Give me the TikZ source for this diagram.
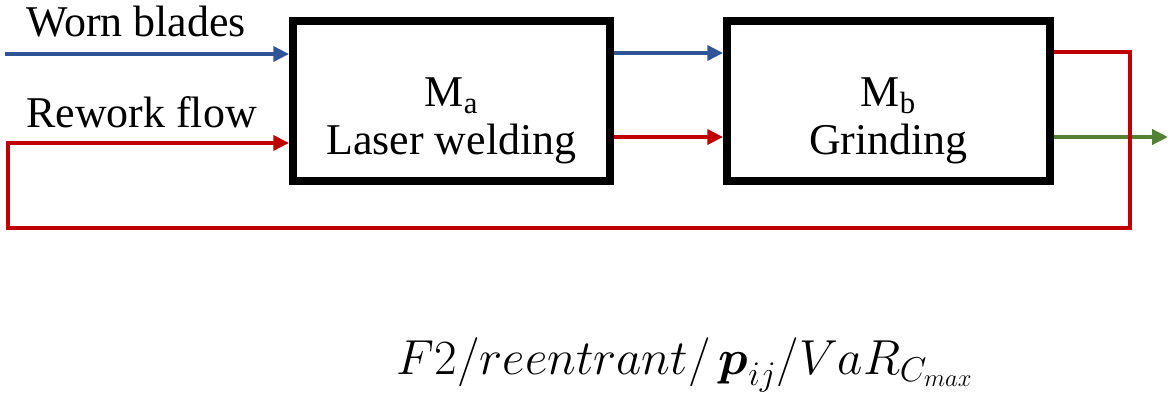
\RequirePackage{fix-cm}
\documentclass[tikz,border=0pt]{standalone}
\usepackage{fontspec}
\setmainfont{Liberation Serif}
\usepackage{amsmath}
\usetikzlibrary{arrows.meta}
\definecolor{flowblue}{RGB}{47,85,151}
\definecolor{flowred}{RGB}{192,0,0}
\definecolor{flowgreen}{RGB}{84,130,53}
\begin{document}
\begin{tikzpicture}[x=0.02cm,y=-0.02cm,
    machine/.style={draw, line width=4.5pt, minimum height=3.2cm},
    flow/.style={line width=2.2pt, -{Triangle[length=9pt,width=8.5pt]}},
    biglabel/.style={font=\fontsize{25}{27}\selectfont}]
    \useasboundingbox (0,0) rectangle (1172,393);

    % machines
    \node[machine, minimum width=6.34cm] (A) at (451.5,101) {};
    \node[machine, minimum width=6.46cm] (B) at (888.5,101) {};
    \node[biglabel, align=center] (Atext) at (451.5,121) {M$_{\mathrm{a}}$\\Laser welding};
    \node[biglabel, align=center] (Btext) at (888.5,121) {M$_{\mathrm{b}}$\\Grinding};

    % levels of the flows
    \coordinate (wornin) at (5,54);
    \coordinate (upper) at (0,53);
    \coordinate (lower) at (0,137);
    \coordinate (retout) at (0,52);
    \coordinate (retin) at (0,143);
    \coordinate (loopright) at (1130,228);
    \coordinate (loopleft) at (8,228);
    \coordinate (finished) at (1168,137);

    % flows
    \draw[flow, flowblue] (wornin) -- (wornin -| A.west);
    \draw[flow, flowblue] (A.east |- upper) -- (B.west |- upper);
    \draw[flow, flowred] (A.east |- lower) -- (B.west |- lower);
    \draw[flow, flowgreen] (B.east |- lower) -- (finished);
    \draw[flow, flowred] (B.east |- retout) -| (loopright) -- (loopleft) |- (A.west |- retin);

    % labels
    \node[biglabel, anchor=base west] (worn) at (20,36) {Worn blades};
    \node[biglabel, anchor=base west] (rework) at (20,127) {Rework flow};
    \node[font=\fontsize{28}{32}\selectfont, anchor=base] (problem) at (685,374)
        {$F2/reentrant/\,\boldsymbol{p}_{ij}/VaR_{C_{max}}$};
\end{tikzpicture}
\end{document}
